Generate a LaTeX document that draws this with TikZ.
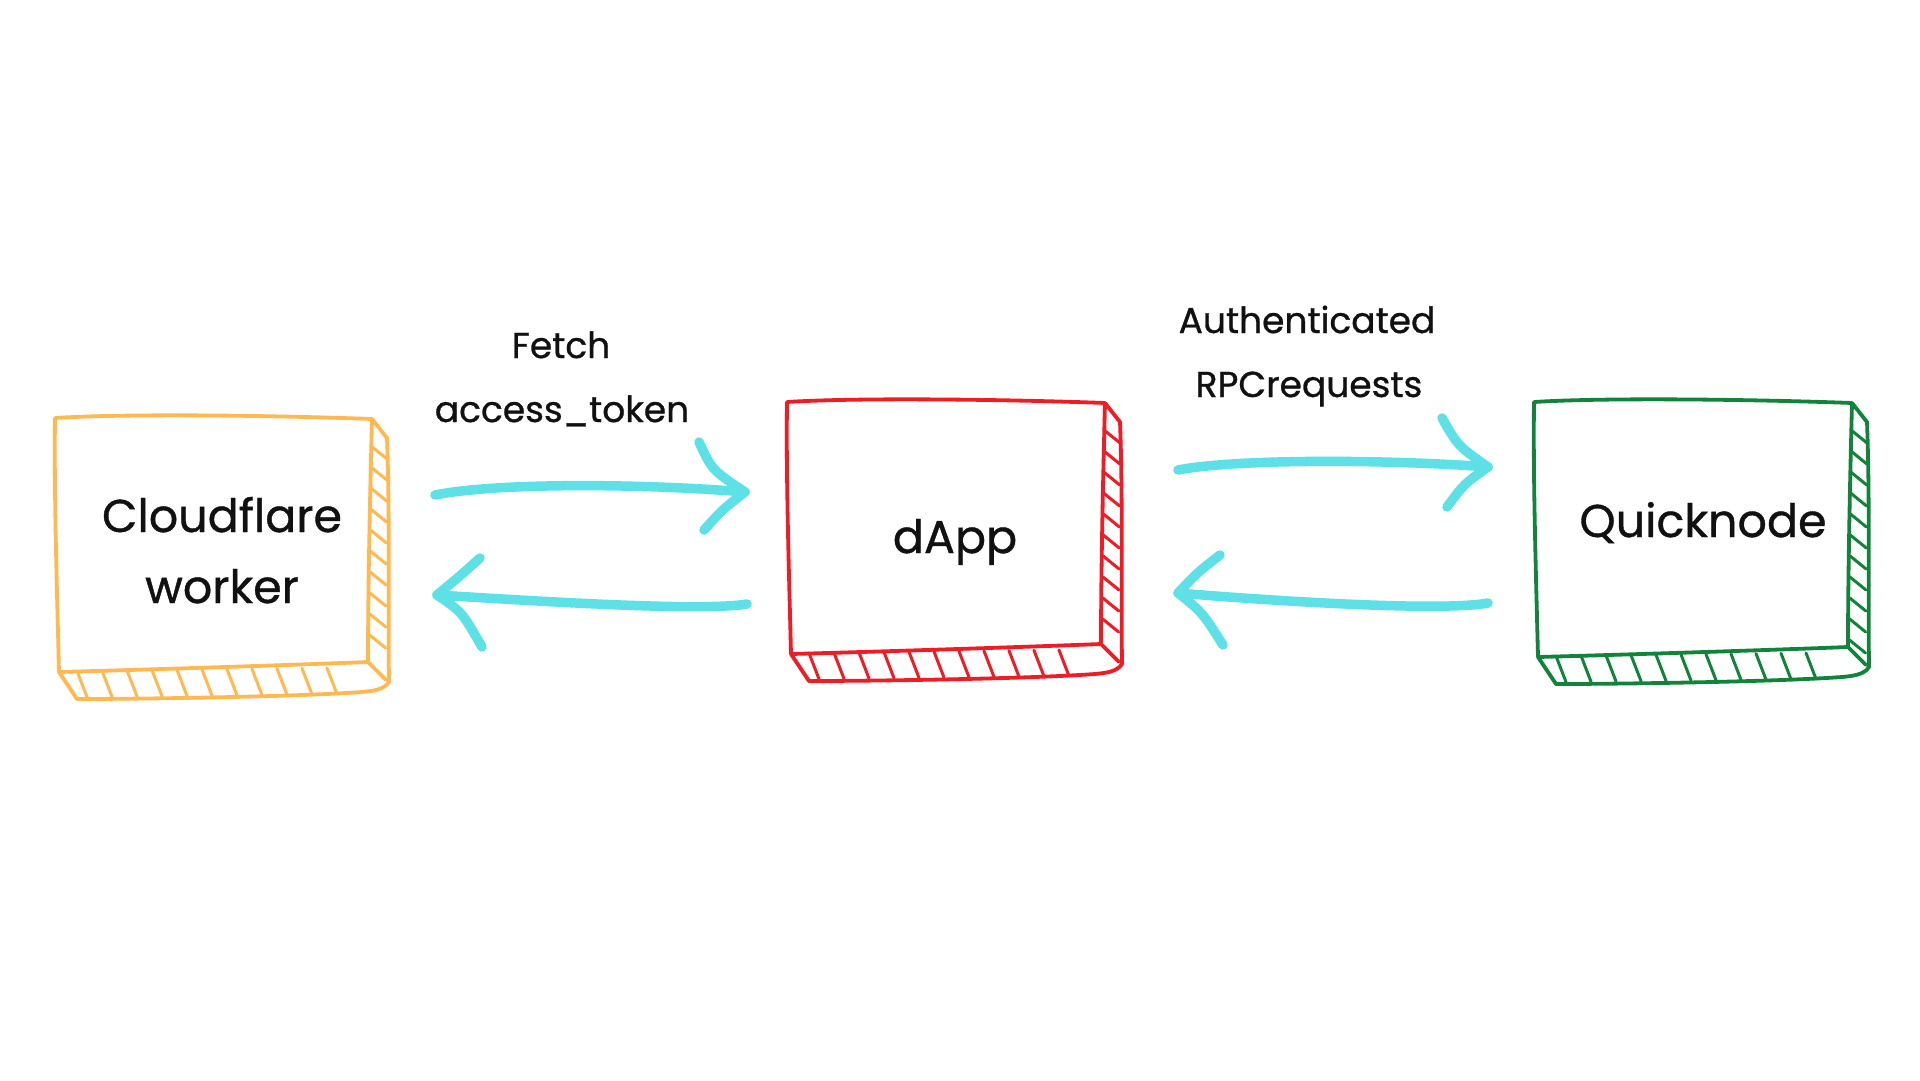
\documentclass[tikz,border=0pt]{standalone}
\usepackage{fontspec}
\setmainfont{Poppins}
\newfontfamily\sketchfont{Poppins}[FakeBold=0.8]
\definecolor{cforange}{HTML}{FFB950}
\definecolor{dred}{HTML}{EE1C25}
\definecolor{qgreen}{HTML}{12833A}
\definecolor{arrcyan}{HTML}{5DE0E6}
\definecolor{inkblack}{HTML}{111111}
\tikzset{
  sk/.style={line width=3.8pt, line join=round, line cap=round},
  hatchline/.style={line width=3pt, line cap=round},
  boxtext/.style={text=inkblack, font=\sketchfont\fontsize{46}{60}\selectfont, inner sep=0pt},
  labeltext/.style={text=inkblack, font=\sketchfont\fontsize{36}{50}\selectfont, inner sep=0pt},
  arr/.style={draw=arrcyan, line width=9.5pt, line cap=round, line join=round},
  face/.style={draw=none, inner sep=0pt},
}
\newcommand\skbox[6]{%
  % #1 name, #2 colour, #3 x1, #4 y1, #5 x2, #6 y2
  \node[face, minimum width={#5-#3}, minimum height={#6-#4}] (#1) at ({(#3+#5)/2},{(#4+#6)/2}) {};
  \draw[#2, sk] (#3,#4+2) .. controls (#3+80,#4-3) and (#5-80,#4) .. (#5,#4+3)
     .. controls (#5-2,#4+80) and (#5-4,#6-80) .. (#5-4,#6-8)
     .. controls (#5-80,#6-5) and (#3+80,#6) .. (#3+4,#6+2)
     .. controls (#3+2,#6-80) and (#3-1,#4+80) .. cycle;
  \draw[#2, sk] (#5,#4+3) -- (#5+15,#4+22)
     .. controls (#5+18,#4+100) and (#5+16,#6-60) .. (#5+17,#6+12)
     .. controls (#5+12,#6+20) and (#5,#6+21) .. (#5-10,#6+22)
     .. controls (#5-80,#6+27) and (#3+80,#6+29) .. (#3+22,#6+29) -- (#3+4,#6+2);
  \draw[#2, sk] (#5-4,#6-8) -- (#5+14,#6+10);
  \pgfmathtruncatemacro\nr{(#6-#4-45)/21}
  \foreach \i in {0,...,\nr} {\draw[#2, hatchline] (#5-1-\i*0.15, #4+30+\i*21) -- ++(16,13);}
  \pgfmathtruncatemacro\nb{(#5-#3-45)/25}
  \foreach \i in {0,...,\nb} {\draw[#2, hatchline] (#3+22+\i*25, #6+1-\i*0.3) -- ++(10,26);}
}
\begin{document}
\begin{tikzpicture}[x=1pt, y=-1pt]
\useasboundingbox[fill=white] (0,0) rectangle (1920,1080);

% boxes
\skbox{cf}{cforange}{55}{416}{372}{670}
\skbox{dapp}{dred}{787}{400}{1105}{652}
\skbox{qn}{qgreen}{1534}{400}{1852}{655}

% box texts
\node[boxtext, anchor=base] (cft1) at (222,532) {Cloudflare};
\node[boxtext, anchor=base] (cft2) at (222,603) {worker};
\node[boxtext, anchor=base] (dappt) at (955,553) {dApp};
\node[boxtext, anchor=base] (qnt) at (1703,537) {Quicknode};

% labels
\node[labeltext, anchor=base] (l1a) at (561,358) {Fetch};
\node[labeltext, anchor=base] (l1b) at (562,422) {access\_token};
\node[labeltext, anchor=base] (l2a) at (1307,333) {Authenticated};
\node[labeltext, anchor=base] (l2b) at (1309,397) {RPCrequests};

% arrow end points
\coordinate (a1s) at (435,495);
\coordinate (a1e) at (745,492);
\coordinate (a1u) at (699,442);
\coordinate (a1l) at (704,530);
\coordinate (a2s) at (747,604);
\coordinate (a2e) at (437,595);
\coordinate (a2u) at (480,558);
\coordinate (a2l) at (482,647);
\coordinate (a3s) at (1178,470);
\coordinate (a3e) at (1488,467);
\coordinate (a3u) at (1442,418);
\coordinate (a3l) at (1447,507);
\coordinate (a4s) at (1488,603);
\coordinate (a4e) at (1178,593);
\coordinate (a4u) at (1220,555);
\coordinate (a4l) at (1223,645);

% arrows
\draw[arr] (a1s) .. controls (500,482) and (650,484) .. (a1e);
\draw[arr] (a1u) .. controls (712,470) .. (a1e) .. controls (722,510) .. (a1l);
\draw[arr] (a2s) .. controls (700,612) and (520,600) .. (a2e);
\draw[arr] (a2u) .. controls (460,576) .. (a2e) .. controls (462,612) .. (a2l);
\draw[arr] (a3s) .. controls (1240,458) and (1400,460) .. (a3e);
\draw[arr] (a3u) .. controls (1458,446) .. (a3e) .. controls (1464,484) .. (a3l);
\draw[arr] (a4s) .. controls (1440,612) and (1260,600) .. (a4e);
\draw[arr] (a4u) .. controls (1198,572) .. (a4e) .. controls (1202,612) .. (a4l);
\end{tikzpicture}
\end{document}
